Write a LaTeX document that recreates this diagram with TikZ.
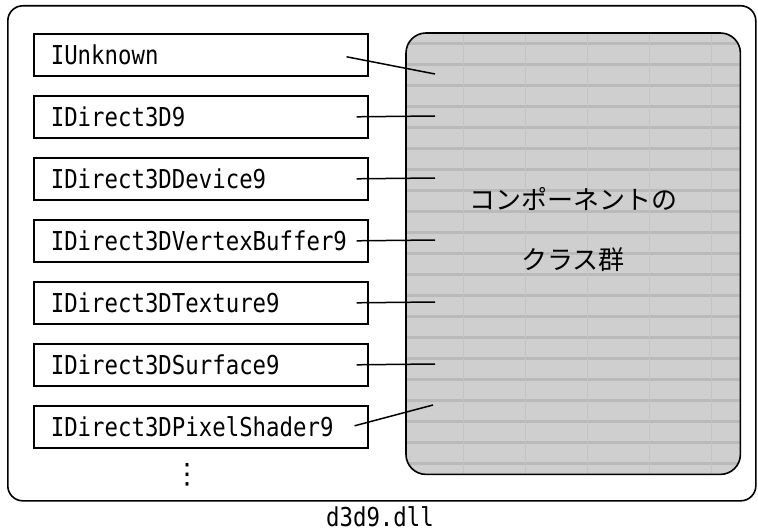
\documentclass[tikz,border=0pt]{standalone}
\usepackage{fontspec}
\newfontfamily\ifacefont{DejaVu Sans Mono}[FakeStretch=0.86]
\newfontfamily\cjk{Noto Sans CJK JP}
\newfontfamily\symfont{DejaVu Sans}
\usetikzlibrary{calc}

\tikzset{
  iface/.style={draw, line width=1.6pt, anchor=north west, minimum height=42pt,
    text width=300pt, inner xsep=17pt, inner ysep=0pt, align=left,
    font=\ifacefont\fontsize{26}{26}\selectfont},
  link/.style={line width=1.5pt},
}

\begin{document}
\begin{tikzpicture}[x=1pt, y=-1pt]
        \useasboundingbox (0,0) rectangle (758,532);

        % DLL
        \node[draw, line width=1.6pt, rounded corners=15pt, anchor=north west,
              minimum width=748pt, minimum height=495pt] (dll) at (7,5) {};
        \node[font=\ifacefont\fontsize{26}{26}\selectfont, inner sep=0pt] (dllname) at (380,517) {d3d9.dll};

        % Компонент
        \node[fill=black!19, rounded corners=20pt, anchor=north west,
              minimum width=334pt, minimum height=441pt] (comp) at (406,33) {};
        \begin{scope}
          \clip[rounded corners=20pt] (comp.north west) rectangle (comp.south east);
          \foreach \yy in {42,63,...,473} \fill[black!27] (406,\yy) rectangle (740,\yy+3);
          \foreach \xx in {463,525,...,740} \draw[black!23, line width=0.8pt] (\xx,33) -- (\xx,474);
        \end{scope}
        \draw[line width=1.6pt, rounded corners=20pt] (comp.north west) rectangle (comp.south east);
        \node[font=\cjk\fontsize{26}{60}\selectfont, align=center] (comptxt) at (573,230)
             {コンポーネントの\\クラス群};

        % Інтерфейси
        \node[iface] (unk) at (33,33) {IUnknown};
        \node[iface] (d3d) at (33,95) {IDirect3D9};
        \node[iface] (dev) at (33,157) {IDirect3DDevice9};
        \node[iface] (vb)  at (33,219) {IDirect3DVertexBuffer9};
        \node[iface] (tex) at (33,281) {IDirect3DTexture9};
        \node[iface] (surf) at (33,343) {IDirect3DSurface9};
        \node[iface] (ps)  at (33,405) {IDirect3DPixelShader9};
        \node[font=\symfont\fontsize{28}{28}\selectfont] (more) at (187,475) {⋮};

        \coordinate (e1) at (435,74);
        \coordinate (e2) at (435,116);
        \coordinate (e3) at (435,178);
        \coordinate (e4) at (435,240);
        \coordinate (e5) at (435,302);
        \coordinate (e6) at (435,364);
        \coordinate (e7) at (433,405);

        \draw[link] ([xshift=-22pt,yshift=-2pt]unk.east) -- (e1);
        \draw[link] ([xshift=-12pt]d3d.east) -- (e2);
        \draw[link] ([xshift=-12pt]dev.east) -- (e3);
        \draw[link] ([xshift=-12pt]vb.east) -- (e4);
        \draw[link] ([xshift=-12pt]tex.east) -- (e5);
        \draw[link] ([xshift=-12pt]surf.east) -- (e6);
        \draw[link] ([xshift=-14pt,yshift=1pt]ps.east) -- (e7);
    \end{tikzpicture}
\end{document}
